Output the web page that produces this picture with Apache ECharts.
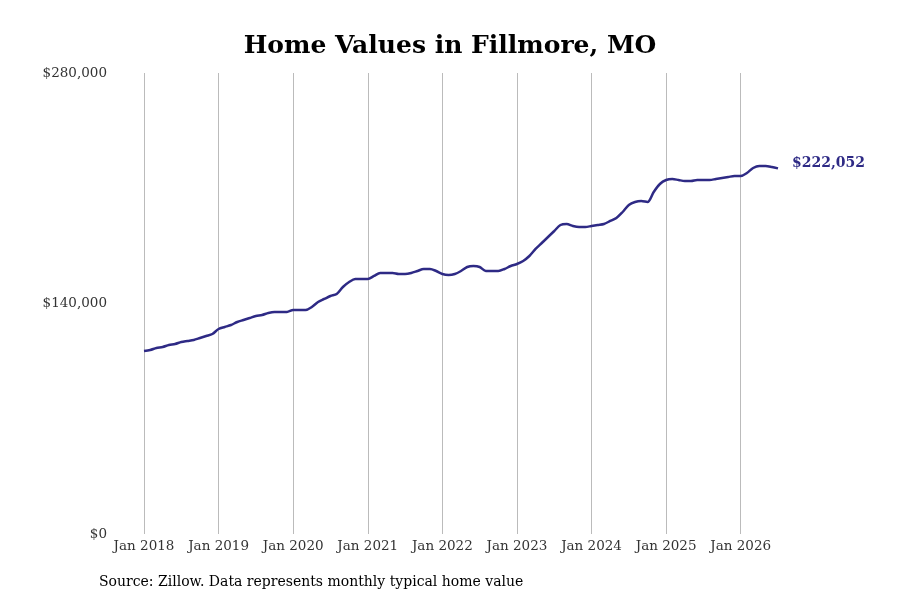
<!DOCTYPE html>
<html>
<head>
<meta charset="UTF-8">
<script src="https://cdn.jsdelivr.net/npm/echarts@6/dist/echarts.min.js"></script>
<style>
  body { margin: 0; background: #fff; }
  #chart { width: 900px; height: 600px; }
</style>
</head>
<body>
<div id="chart"></div>
<script>
// monthly typical home value, Jan 2018 .. Jul 2026
const years = [2018, 2019, 2020, 2021, 2022, 2023, 2024, 2025, 2026];
const values = [
  111150, 111760, 112980, 113580, 114800, 115400, 116620, 117230, 117840, 119050, 120270, 121480,
  124520, 125730, 126950, 128770, 129980, 131200, 132410, 133020, 134240, 134840, 134840, 134840,
  136060, 136060, 136060, 137880, 140920, 142740, 144560, 145780, 150030, 153060, 154890, 154890,
  154890, 156710, 158530, 158530, 158530, 157920, 157920, 158530, 159750, 160960, 160960, 159750,
  157920, 157320, 157920, 159750, 162180, 162780, 162180, 159750, 159750, 159750, 160960, 162780,
  164000, 165820, 168860, 173110, 176750, 180400, 184040, 187690, 188290, 187080, 186470, 186470,
  187080, 187690, 188290, 190120, 191940, 195580, 199830, 201660, 202260, 201660, 207730, 212590,
  215020, 215630, 215020, 214410, 214410, 215020, 215020, 215020, 215630, 216230, 216840, 217450,
  217450, 219270, 222310, 223520, 223520, 222920, 222052
];
const yTicks = [0, 140000, 280000];

const months = values.map((v, i) => 'Jan ' + (2018 + Math.floor(i / 12)) + '|' + (i % 12));
const isJan = (i) => i % 12 === 0;
const serif = 'DejaVu Serif';

const chart = echarts.init(document.getElementById('chart'));
chart.setOption({
  animation: false,
  title: {
    text: 'Home Values in Fillmore, MO',
    left: 'center', top: 29,
    textStyle: { fontFamily: serif, fontWeight: 'bold', fontSize: 25, color: '#000' }
  },
  graphic: [{
    type: 'text', left: 99, top: 575,
    style: { text: 'Source: Zillow. Data represents monthly typical home value', font: '14px "DejaVu Serif"', fill: '#000' }
  }],
  grid: { left: 144, right: 122, top: 73, bottom: 66 },
  xAxis: {
    type: 'category', data: months, boundaryGap: false,
    axisLine: { show: false }, axisTick: { show: false },
    axisLabel: {
      interval: (i) => isJan(i), margin: 5,
      formatter: (v) => v.split('|')[0],
      fontFamily: serif, fontSize: 13.5, color: '#333'
    },
    splitLine: { show: true, interval: (i) => isJan(i), lineStyle: { color: '#bbb', width: 1 } }
  },
  yAxis: {
    type: 'value', min: 0, max: 280000, interval: 140000,
    axisLine: { show: false }, axisTick: { show: false }, splitLine: { show: false },
    axisLabel: {
      margin: 37, fontFamily: serif, fontSize: 13.5, color: '#333',
      formatter: (v) => '$' + v.toLocaleString('en-US')
    }
  },
  series: [{
    type: 'line', data: values, showSymbol: false, smooth: 0.3,
    lineStyle: { color: '#2e2a85', width: 2.5 },
    endLabel: {
      show: true, distance: 14, offset: [0, -5], fontFamily: serif, fontWeight: 'bold', fontSize: 14, color: '#2e2a85',
      formatter: (p) => '$' + p.value.toLocaleString('en-US')
    }
  }]
});
</script>
</body>
</html>
